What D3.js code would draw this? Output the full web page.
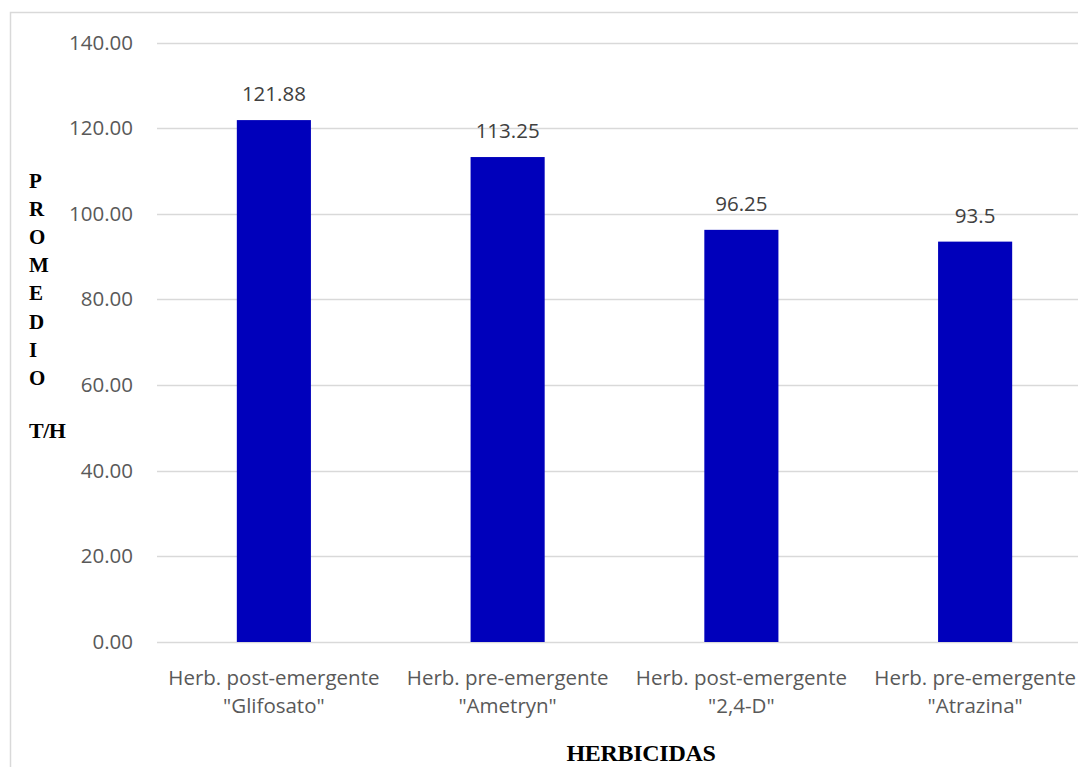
<!DOCTYPE html>
<html>
<head>
<meta charset="utf-8">
<script src="https://cdn.jsdelivr.net/npm/d3@7"></script>
<style>
  html, body { margin: 0; padding: 0; background: #ffffff; }
  svg { display: block; }
</style>
</head>
<body>
<svg id="chart" width="1078" height="767"></svg>
<script>
// Average yield (T/H) per herbicide treatment
const categories = [
  ["Herb. post-emergente", "\"Glifosato\""],
  ["Herb. pre-emergente", "\"Ametryn\""],
  ["Herb. post-emergente", "\"2,4-D\""],
  ["Herb. pre-emergente", "\"Atrazina\""]
];
const values = [121.88, 113.25, 96.25, 93.5];
const valueLabels = ["121.88", "113.25", "96.25", "93.5"];
const yTicks = [0, 20, 40, 60, 80, 100, 120, 140];
const yTitleLetters = ["P", "R", "O", "M", "E", "D", "I", "O"];
const yTitleUnit = "T/H";
const xTitle = "HERBICIDAS";

const svg = d3.select("#chart");

const plot = { left: 157, right: 1092, top: 42.5, bottom: 642 };
const sans = "'Open Sans', sans-serif";
const serif = "'Liberation Serif', 'Times New Roman', serif";

// chart frame
svg.append("rect")
  .attr("x", 10.5).attr("y", 12.5)
  .attr("width", 1200).attr("height", 900)
  .attr("fill", "none").attr("stroke", "#d9d9d9").attr("stroke-width", 1.5);

const idx = categories.map((d, i) => i);
const x = d3.scaleBand().domain(idx).range([plot.left, plot.right]).paddingInner(0.683).paddingOuter(0.3415);
const y = d3.scaleLinear().domain([0, 140]).range([plot.bottom, plot.top]);

// gridlines
svg.append("g")
  .selectAll("line")
  .data(yTicks)
  .join("line")
  .attr("x1", plot.left).attr("x2", plot.right)
  .attr("y1", d => Math.round(y(d)) + 0.5).attr("y2", d => Math.round(y(d)) + 0.5)
  .attr("stroke", "#d9d9d9").attr("stroke-width", 1.5);

// y axis labels
const yAxis = d3.axisLeft(y).tickValues(yTicks).tickFormat(d3.format(".2f")).tickSize(0).tickPadding(0);
const gy = svg.append("g").attr("transform", "translate(133,0)").call(yAxis);
gy.select(".domain").remove();
gy.selectAll("text")
  .attr("font-family", sans)
  .attr("font-size", 20.5)
  .attr("fill", "#595959");

// bars
svg.append("g")
  .selectAll("rect")
  .data(values)
  .join("rect")
  .attr("x", (d, i) => x(i))
  .attr("width", x.bandwidth())
  .attr("y", d => y(d))
  .attr("height", d => y(0) - y(d))
  .attr("fill", "#0000bb");

// value labels
svg.append("g")
  .selectAll("text")
  .data(values)
  .join("text")
  .attr("x", (d, i) => x(i) + x.bandwidth() / 2)
  .attr("y", d => y(d) - 19)
  .attr("text-anchor", "middle")
  .attr("font-family", sans)
  .attr("font-size", 20.5)
  .attr("fill", "#404040")
  .text((d, i) => valueLabels[i]);

// category labels
const catG = svg.append("g")
  .selectAll("text")
  .data(categories)
  .join("text")
  .attr("x", (d, i) => x(i) + x.bandwidth() / 2)
  .attr("y", 685)
  .attr("text-anchor", "middle")
  .attr("font-family", sans)
  .attr("font-size", 20.5)
  .attr("fill", "#595959");
catG.selectAll("tspan")
  .data(d => d)
  .join("tspan")
  .attr("x", function () { return d3.select(this.parentNode).attr("x"); })
  .attr("dy", (d, j) => j === 0 ? 0 : 28)
  .text(d => d);

// x axis title
svg.append("text")
  .attr("x", 641).attr("y", 761)
  .attr("text-anchor", "middle")
  .attr("font-family", serif)
  .attr("font-weight", "bold")
  .attr("font-size", 24)
  .attr("letter-spacing", -0.3)
  .attr("fill", "#000000")
  .text(xTitle);

// y axis title, stacked letters
svg.append("g")
  .selectAll("text")
  .data(yTitleLetters)
  .join("text")
  .attr("x", 29)
  .attr("y", (d, i) => 188 + i * 28.1)
  .attr("font-family", serif)
  .attr("font-weight", "bold")
  .attr("font-size", 21)
  .attr("fill", "#000000")
  .text(d => d);

svg.append("text")
  .attr("x", 29).attr("y", 438)
  .attr("font-family", serif)
  .attr("font-weight", "bold")
  .attr("font-size", 22)
  .attr("letter-spacing", -0.5)
  .attr("fill", "#000000")
  .text(yTitleUnit);
</script>
</body>
</html>
